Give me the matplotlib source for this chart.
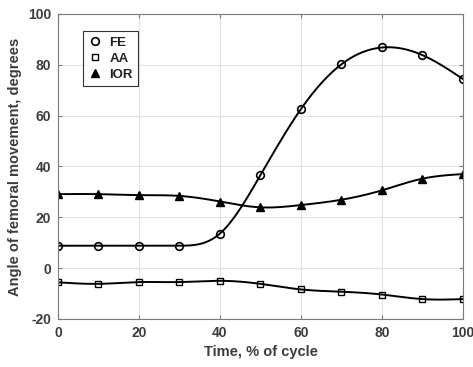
import numpy as np
import matplotlib
matplotlib.use("Agg")
import matplotlib.pyplot as plt

plt.rcParams['font.family'] = ['Liberation Sans', 'DejaVu Sans']
plt.rcParams['axes.unicode_minus'] = False

time = [0, 10, 20, 30, 40, 50, 60, 70, 80, 90, 100]
fe = [8.8, 8.8, 8.8, 8.8, 13.6, 36.6, 62.6, 80.2, 86.8, 83.8, 74.4]
aa = [-5.6, -6.2, -5.5, -5.5, -5.0, -6.2, -8.4, -9.3, -10.4, -12.2, -12.2]
ior = [29.1, 29.1, 28.7, 28.4, 26.2, 23.9, 24.8, 26.9, 30.6, 35.2, 37.0]
labels = ['FE', 'AA', 'IOR']
xticks = [0, 20, 40, 60, 80, 100]
yticks = [-20, 0, 20, 40, 60, 80, 100]


def spline(x, y, n=400):
    # natural cubic spline for drawing a smooth connecting line
    x = np.asarray(x, float); y = np.asarray(y, float)
    k = len(x); h = np.diff(x)
    A = np.zeros((k, k)); r = np.zeros(k)
    A[0, 0] = A[-1, -1] = 1
    for i in range(1, k - 1):
        A[i, i - 1] = h[i - 1]; A[i, i] = 2 * (h[i - 1] + h[i]); A[i, i + 1] = h[i]
        r[i] = 3 * ((y[i + 1] - y[i]) / h[i] - (y[i] - y[i - 1]) / h[i - 1])
    c = np.linalg.solve(A, r)
    b = (np.diff(y) / h) - h * (2 * c[:-1] + c[1:]) / 3
    d = np.diff(c) / (3 * h)
    xs = np.linspace(x[0], x[-1], n)
    idx = np.clip(np.searchsorted(x, xs) - 1, 0, k - 2)
    t = xs - x[idx]
    ys = y[idx] + b[idx] * t + c[idx] * t ** 2 + d[idx] * t ** 3
    return xs, ys


fig = plt.figure(figsize=(4.73, 3.67), dpi=100)
ax = fig.add_axes([0.1226, 0.131, 0.8562, 0.831])

txtc = '#3c3c3c'
styles = [dict(marker='o', mfc='none', ms=5.5, mew=1.2),
          dict(marker='s', mfc='none', ms=4.2, mew=1.0),
          dict(marker='^', mfc='black', ms=6, mew=1.0)]
for ys, lab, st in zip([fe, aa, ior], labels, styles):
    sx, sy = spline(time, ys)
    ax.plot(sx, sy, color='black', lw=1.4)
    ax.plot(time, ys, ls='none', color='black', mec='black', label=lab, **st)

ax.set_xlim(0, 100)
ax.set_ylim(-20, 100)
ax.set_xticks(xticks)
ax.set_yticks(yticks)
ax.grid(True, color='#e3e3e3', lw=0.8)
ax.set_axisbelow(True)
for s in ax.spines.values():
    s.set_color('#7a7a7a')
    s.set_linewidth(0.8)
ax.tick_params(direction='in', length=3, color='#7a7a7a', top=True, right=True,
               labelsize=10, labelcolor=txtc, pad=5)
for lbl in ax.get_xticklabels() + ax.get_yticklabels():
    lbl.set_fontweight('bold')
ax.set_xlabel('Time, % of cycle', fontsize=10.5, fontweight='bold', color=txtc, labelpad=4)
ax.set_ylabel('Angle of femoral movement, degrees', fontsize=10.5, fontweight='bold',
              color=txtc, labelpad=4)

leg = ax.legend(loc='upper left', bbox_to_anchor=(0.062, 0.944), borderaxespad=0,
                frameon=True, fancybox=False, edgecolor='black', handlelength=1.0,
                handletextpad=0.6, borderpad=0.4, labelspacing=0.3,
                prop={'weight': 'bold', 'size': 9.5})
leg.get_frame().set_linewidth(0.8)
for t in leg.get_texts():
    t.set_color('#222222')

fig.savefig('out.png', dpi=100)
